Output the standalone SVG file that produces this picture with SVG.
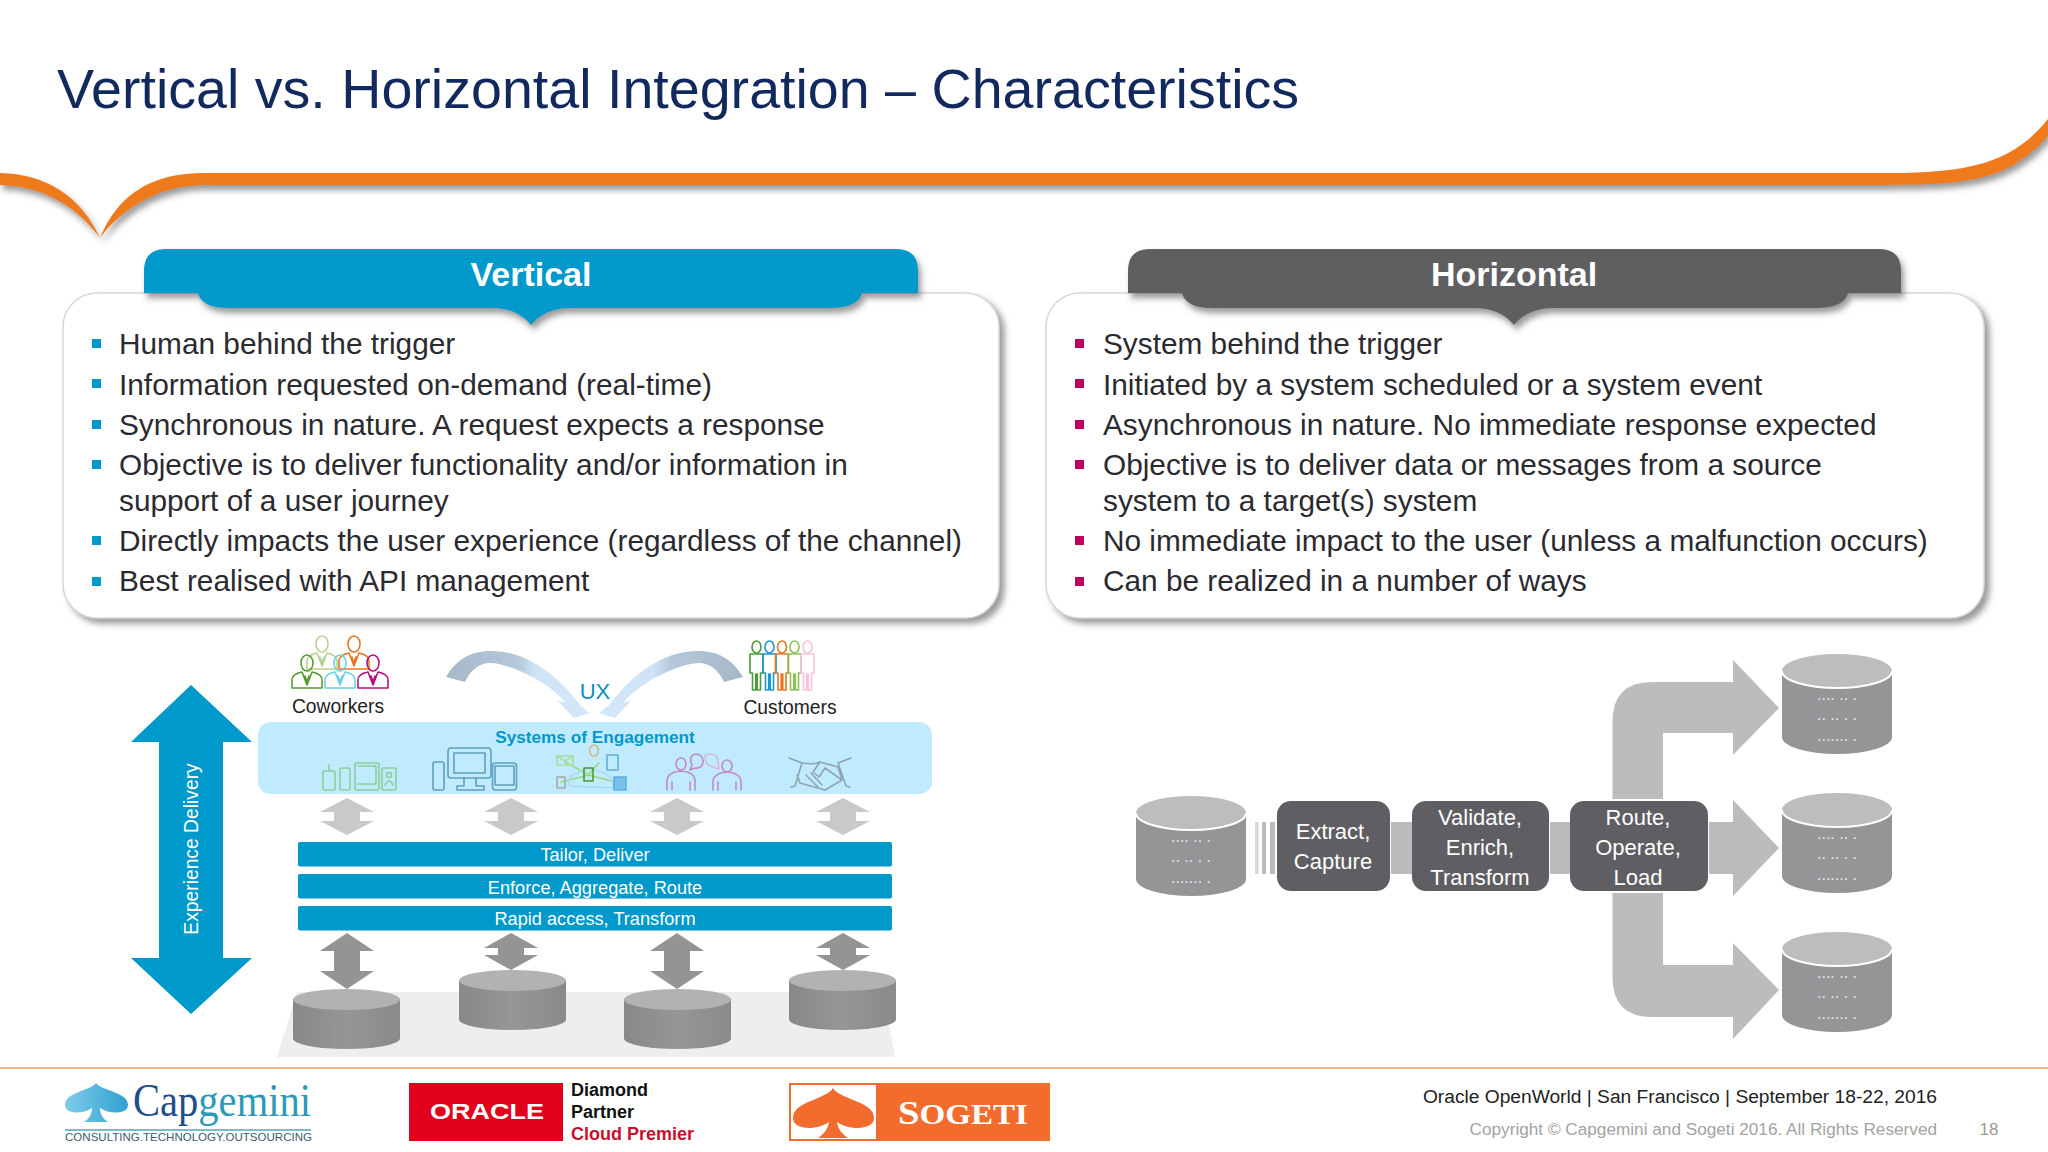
<svg xmlns="http://www.w3.org/2000/svg" xmlns:xlink="http://www.w3.org/1999/xlink" width="2048" height="1152" viewBox="0 0 2048 1152">
<style>
text{font-family:"Liberation Sans",Arial,sans-serif}
.li{font-size:29.8px;fill:#2a2a30}
.sb{fill:#0099cc}.sh{fill:#c0005f}
.hd{font-size:34px;font-weight:bold;fill:#fff;text-anchor:middle}
.bar{fill:#0099cc}
.bt{font-size:18.2px;fill:#fff;text-anchor:middle}
.lb{font-size:19.3px;fill:#222;text-anchor:middle}
.box{fill:#5f5e62}
.bx{font-size:22px;fill:#fff;text-anchor:middle}
.flow{fill:#bcbcbe}
.dots{font-size:16px;fill:#e8e8e8;text-anchor:middle}
.ic{fill:none;stroke-width:1.6;stroke-linejoin:round;stroke-linecap:round}
</style>
<defs>
<filter id="s1" x="-5%" y="-20%" width="110%" height="140%"><feDropShadow dx="3" dy="5" stdDeviation="3" flood-color="#555" flood-opacity=".6"/></filter>
<filter id="s2" x="-5%" y="-5%" width="110%" height="120%"><feDropShadow dx="5" dy="5" stdDeviation="3" flood-color="#666" flood-opacity=".65"/></filter>
<linearGradient id="cl" gradientUnits="userSpaceOnUse" x1="446" y1="0" x2="590" y2="0"><stop offset="0" stop-color="#a6b8c8"/><stop offset=".5" stop-color="#b4c8da"/><stop offset=".62" stop-color="#cfe3f6"/><stop offset="1" stop-color="#d4e8fa"/></linearGradient>
<linearGradient id="lc" x1="0" x2="1" y1="0" y2="0"><stop offset="0" stop-color="#88888a"/><stop offset=".5" stop-color="#969698"/><stop offset="1" stop-color="#8a8a8c"/></linearGradient>
<linearGradient id="cg" x1="0" x2="1" y1="0" y2="0"><stop offset="0" stop-color="#7fcdea"/><stop offset="1" stop-color="#2f9fd0"/></linearGradient>
<polygon id="la" fill="#c9c9cb" points="0,0 27,14 13,14 13,23 27,23 0,37 -27,23 -13,23 -13,14 -27,14"/>
<polygon id="dl" fill="#949496" points="0,0 27,18 13,18 13,38 27,38 0,56 -27,38 -13,38 -13,18 -27,18"/>
<polygon id="ds" fill="#949496" points="0,0 27,15 13,15 13,22 27,22 0,37 -27,22 -13,22 -13,15 -27,15"/>
<g id="cy1"><path d="M0,10.5V49.5A53.5,10.5 0 0 0 107,49.5V10.5Z" fill="url(#lc)"/><ellipse cx="53.5" cy="10.5" rx="53.5" ry="10.5" fill="#b2b2b4"/></g>
<g id="cy2"><path d="M0,17V83A55,17 0 0 0 110,83V17Z" fill="#959597"/><ellipse cx="55" cy="17" rx="55" ry="17" fill="#bdbdbf"/><path d="M0,17A55,17 0 0 0 110,17" fill="none" stroke="#fff" stroke-width="2"/>
<text class="dots" x="55" y="46">.... .. .</text><text class="dots" x="55" y="66">.. .. . .</text><text class="dots" x="55" y="87">....... .</text></g>
<g id="man" class="ic"><ellipse cx="0" cy="-17" rx="6" ry="8"/><path d="M-15,8V0Q-15,-6 -5,-8L0,5L5,-8Q15,-6 15,0V8ZM-2,-4L0,2L2,-4"/></g>
<g id="tall" class="ic"><ellipse cx="0" cy="-18" rx="4.500" ry="6"/><path d="M-6.500,-11H6.500V8H4V25H.8V9H-.8V25H-4V8H-6.500Z"/></g>
</defs>
<rect width="2048" height="1152" fill="#fff"/>

<g id="title-band">
<path d="M0,173C45,174 80,195 100,238C118,195 150,173 205,173H1890C1975,173 2015,160 2048,119V136C2010,178 1975,185 1890,185H205C160,185 122,208 100,238C78,208 45,186 0,185Z" fill="#ef7a1a" filter="url(#s1)"/>
<text x="57" y="108" font-size="55.600" fill="#11295c">Vertical vs. Horizontal Integration – Characteristics</text>
</g>

<g id="vertical-panel">
<rect x="63" y="293" width="936" height="325" rx="34" fill="#fff" stroke="#d8d8d8" stroke-width="1.5" filter="url(#s2)"/>
<path d="M144,293V271Q144,249 166,249H896Q918,249 918,271V293H862Q858,308 830,308H570Q545,308 531,325Q517,308 492,308H228Q202,308 198,293Z" fill="#0099cc" filter="url(#s1)"/>
<text class="hd" x="531" y="286">Vertical</text>
<g class="sb"><rect x="92" y="339" width="9" height="9"/><rect x="92" y="379" width="9" height="9"/><rect x="92" y="420" width="9" height="9"/><rect x="92" y="460" width="9" height="9"/><rect x="92" y="536" width="9" height="9"/><rect x="92" y="577" width="9" height="9"/></g>
<g class="li">
<text x="119" y="354">Human behind the trigger</text>
<text x="119" y="394.500">Information requested on-demand (real-time)</text>
<text x="119" y="435">Synchronous in nature. A request expects a response</text>
<text x="119" y="475">Objective is to deliver functionality and/or information in</text>
<text x="119" y="510.500">support of a user journey</text>
<text x="119" y="551">Directly impacts the user experience (regardless of the channel)</text>
<text x="119" y="591">Best realised with API management</text>
</g>
</g>

<g id="horizontal-panel">
<rect x="1046" y="293" width="938" height="325" rx="34" fill="#fff" stroke="#d8d8d8" stroke-width="1.5" filter="url(#s2)"/>
<path d="M1128,293V271Q1128,249 1150,249H1879Q1901,249 1901,271V293H1848Q1844,308 1816,308H1553Q1528,308 1514,325Q1500,308 1475,308H1212Q1186,308 1182,293Z" fill="#5f5e62" filter="url(#s1)"/>
<text class="hd" x="1514" y="286">Horizontal</text>
<g class="sh"><rect x="1075" y="339" width="9" height="9"/><rect x="1075" y="379" width="9" height="9"/><rect x="1075" y="420" width="9" height="9"/><rect x="1075" y="460" width="9" height="9"/><rect x="1075" y="536" width="9" height="9"/><rect x="1075" y="577" width="9" height="9"/></g>
<g class="li">
<text x="1103" y="354">System behind the trigger</text>
<text x="1103" y="394.500">Initiated by a system scheduled or a system event</text>
<text x="1103" y="435">Asynchronous in nature. No immediate response expected</text>
<text x="1103" y="475">Objective is to deliver data or messages from a source</text>
<text x="1103" y="510.500">system to a target(s) system</text>
<text x="1103" y="551">No immediate impact to the user (unless a malfunction occurs)</text>
<text x="1103" y="591">Can be realized in a number of ways</text>
</g>
</g>

<g id="vertical-connectors">
<polygon id="experience-arrow" fill="#0099cc" points="191,685 252,742 223,742 223,958 252,958 191,1014 131,958 159,958 159,742 131,742"/>
<path id="ux-left" fill="url(#cl)" d="M446,677C456,660 470,651 491,651C525,651 555,672 581,706L590,713L574,718L557,700L566,703C545,678 505,663 490,663C480,663 470,670 465,682Z"/>
<path id="ux-right" fill="url(#cl)" transform="matrix(-1 0 0 1 1189 0)" d="M446,677C456,660 470,651 491,651C525,651 555,672 581,706L590,713L574,718L557,700L566,703C545,678 505,663 490,663C480,663 470,670 465,682Z"/>
<use href="#la" x="347" y="798"/><use href="#la" x="511" y="798"/><use href="#la" x="677" y="798"/><use href="#la" x="843" y="798"/>
<use href="#dl" x="347" y="933"/><use href="#ds" x="511" y="933"/><use href="#dl" x="677" y="933"/><use href="#ds" x="843" y="933"/>
</g>
<text x="0" y="0" transform="translate(198,849) rotate(-90)" font-size="19.300" fill="#fff" text-anchor="middle">Experience Delivery</text>

<g id="coworkers">
<use href="#man" x="322" y="661" stroke="#b5d48f"/><use href="#man" x="354" y="661" stroke="#e87722"/>
<use href="#man" x="340" y="680" stroke="#6fd0ea"/><use href="#man" x="307" y="680" stroke="#5a9a35"/><use href="#man" x="373" y="680" stroke="#b5107e"/>
<text class="lb" x="338" y="713">Coworkers</text>
</g>
<g id="customers">
<use href="#tall" x="756.500" y="665" stroke="#4f9a3a"/><use href="#tall" x="769.500" y="665" stroke="#1a96cc"/><use href="#tall" x="782" y="665" stroke="#e87722"/><use href="#tall" x="794.500" y="665" stroke="#8cc257"/><use href="#tall" x="807.500" y="665" stroke="#f7c3dc"/>
<text class="lb" x="790" y="714">Customers</text>
</g>
<text x="595" y="699" font-size="22" fill="#0a8fc2" text-anchor="middle">UX</text>

<g id="systems-of-engagement">
<rect x="258" y="722" width="674" height="72" rx="13" fill="#c0ebfe"/>
<text x="595" y="742.500" font-size="17.200" font-weight="bold" fill="#0099cc" text-anchor="middle">Systems of Engagement</text>
<g class="ic" stroke="#8ccf9c"><rect x="323" y="771" width="12" height="19" rx="2"/><path d="M329,771V765"/><rect x="340" y="768" width="10" height="22" rx="2"/><rect x="355" y="763" width="24" height="27" rx="2"/><path d="M358,766H376V784H358"/><rect x="382" y="768" width="14" height="22" rx="1"/><circle cx="389" cy="775" r="2.500"/><path d="M385,785Q389,777 393,785"/></g>
<g class="ic" stroke="#5f9fbc" stroke-width="1.300"><rect x="433" y="762" width="11" height="28" rx="2"/><rect x="448" y="748" width="43" height="30" rx="3"/><rect x="454" y="753" width="31" height="20"/><path d="M464,778V786H457V790H484V786H476V778"/><rect x="492.500" y="763" width="24" height="27" rx="3"/><rect x="495" y="766" width="19" height="19"/></g>
<g class="ic" stroke-width="1.200"><path d="M565,762L589,775M599,763L589,774M619,783L589,775M561,782L589,775" stroke="#9ed67e"/><path d="M570,786Q566,775 578,773Q585,765 597,771Q612,772 614,788Z" stroke="#a5dcf0"/><rect x="557" y="756" width="16" height="9" stroke="#a8dca0"/><path d="M557,756L565,761L573,756" stroke="#a8dca0"/><path d="M594,745a4,5 0 0 1 0,11a4,5 0 0 1 0,-11" stroke="#cfb88c"/><rect x="607" y="755" width="11" height="15" stroke="#5cb0dc"/><rect x="584" y="768" width="9" height="13" stroke="#4a9a30" stroke-width="1.600"/><rect x="557" y="777" width="8" height="11" stroke="#a8a8a0"/><rect x="614" y="777" width="12" height="13" fill="#79c0ec" stroke="#5cb0dc"/></g>
<g class="ic" stroke="#c48ac2" stroke-width="1.300"><ellipse cx="681" cy="764" rx="5" ry="6"/><path d="M667,790V780Q668,772 681,771Q694,772 695,780V790M672,790V782M690,790V782"/><ellipse cx="727" cy="766" rx="5" ry="6"/><path d="M713,790V781Q714,773 727,772Q740,773 741,781V790M718,790V782M736,790V782"/><path d="M690,770L692,765Q688,755 696,754Q704,755 703,763Q701,769 695,768Z"/><path d="M705,756Q705,754 712,754Q719,756 718,763L719,769L713,767Q705,765 705,756Z" stroke="#d9b6dc"/></g>
<g class="ic" stroke="#8fa5b3" stroke-width="1.100"><path d="M789,758L802,763L795,786L791,787M851,758L838,763L846,786L850,787M802,763Q815,765 820,762L838,767L842,780L825,790L800,783L797,775M820,762L813,772L819,777L825,768L842,780M806,775L818,787M811,773L822,785"/></g>
</g>

<g id="layers">
<rect class="bar" x="298" y="842" width="594" height="24.500" rx="2"/><rect class="bar" x="298" y="874" width="594" height="24.500" rx="2"/><rect class="bar" x="298" y="906" width="594" height="24.500" rx="2"/>
<text class="bt" x="595" y="861">Tailor, Deliver</text><text class="bt" x="595" y="893.500">Enforce, Aggregate, Route</text><text class="bt" x="595" y="925">Rapid access, Transform</text>
</g>
<g id="data-stores">
<polygon points="297,992 883,992 895,1057 277,1057" fill="#eeeef0"/>
<use href="#cy1" x="293" y="989"/><use href="#cy1" x="459" y="970"/><use href="#cy1" x="624" y="989"/><use href="#cy1" x="789" y="970"/>
</g>

<g id="horizontal-connectors">
<g class="flow"><rect x="1255" y="822" width="3.500" height="52" fill="#d8d8da"/><rect x="1262" y="822" width="4" height="52"/><rect x="1270" y="822" width="5" height="52"/>
<rect x="1391" y="822" width="21" height="52"/><rect x="1550" y="822" width="20" height="52"/>
<polygon points="1709,822 1733,822 1733,800 1779,848 1733,896 1733,874 1709,874"/>
<path d="M1612.500,799V722Q1612.500,682 1652,682H1733V660L1779,708L1733,755V733H1663V799Z"/>
<path d="M1612.500,893V977Q1612.500,1017 1652,1017H1733V1039L1779,990L1733,943V965H1663V893Z"/></g>
</g>

<g id="source-store"><use href="#cy2" x="1136" y="796"/></g>
<g id="extract"><rect class="box" x="1277" y="801" width="113" height="90" rx="14"/><text class="bx" x="1333" y="839">Extract,</text><text class="bx" x="1333" y="869">Capture</text></g>
<g id="validate"><rect class="box" x="1412" y="801" width="137" height="90" rx="14"/><text class="bx" x="1480" y="825">Validate,</text><text class="bx" x="1480" y="855">Enrich,</text><text class="bx" x="1480" y="885">Transform</text></g>
<g id="route"><rect class="box" x="1570" y="801" width="138" height="90" rx="14"/><text class="bx" x="1638" y="825">Route,</text><text class="bx" x="1638" y="855">Operate,</text><text class="bx" x="1638" y="885">Load</text></g>
<g id="target-store-1"><use href="#cy2" x="1782" y="654"/></g>
<g id="target-store-2"><use href="#cy2" x="1782" y="793"/></g>
<g id="target-store-3"><use href="#cy2" x="1782" y="932"/></g>

<g id="footer">
<rect x="0" y="1067" width="2048" height="2" fill="#f2b588"/>
<g id="capgemini"><path d="M96,1083C102,1091 128,1092 128,1105C128,1114 110,1115 100,1108C100,1114 103,1119 108,1122H84C89,1119 92,1114 92,1108C82,1115 65,1114 65,1105C65,1092 90,1091 96,1083Z" fill="url(#cg)"/>
<text x="133" y="1116" font-size="46" textLength="178" lengthAdjust="spacingAndGlyphs" style="font-family:'Liberation Serif',serif" fill="#1f4e8c">Cap<tspan fill="#2a9ab8">gemini</tspan></text>
<rect x="65" y="1129" width="246" height="2" fill="#7cbccc"/>
<text x="65" y="1141" font-size="11.500" textLength="247" fill="#3d5a6e">CONSULTING.TECHNOLOGY.OUTSOURCING</text></g>
<g id="oracle"><rect x="409" y="1083" width="154" height="58" fill="#e2001a"/>
<text x="487" y="1119" font-size="22" font-weight="bold" fill="#fff" text-anchor="middle" textLength="114" lengthAdjust="spacingAndGlyphs">ORACLE</text>
<g font-size="18" font-weight="bold"><text x="571" y="1096" fill="#111">Diamond</text><text x="571" y="1118" fill="#111">Partner</text><text x="571" y="1140" fill="#c8102e">Cloud Premier</text></g></g>
<g id="sogeti"><rect x="789" y="1083" width="261" height="58" fill="#f26c2e"/><rect x="791" y="1085" width="85" height="54" fill="#fff"/>
<path d="M833,1088C840,1100 874,1101 874,1118C874,1130 850,1131 837,1122C838,1129 842,1134 848,1138H818C824,1134 828,1129 829,1122C816,1131 793,1130 793,1118C793,1101 826,1100 833,1088Z" fill="#f26c2e"/>
<text x="898" y="1124" font-size="34" font-weight="bold" fill="#fff" textLength="130" lengthAdjust="spacingAndGlyphs" style="font-family:'Liberation Serif',serif">S<tspan font-size="29">OGETI</tspan></text></g>
<text x="1937" y="1102.500" font-size="19.200" fill="#222" text-anchor="end">Oracle OpenWorld | San Francisco | September 18-22, 2016</text>
<text x="1937" y="1135" font-size="17.200" fill="#a3a3a3" text-anchor="end">Copyright © Capgemini and Sogeti 2016. All Rights Reserved</text>
<text x="1989" y="1135" font-size="17" fill="#999" text-anchor="middle">18</text>
</g>
</svg>
